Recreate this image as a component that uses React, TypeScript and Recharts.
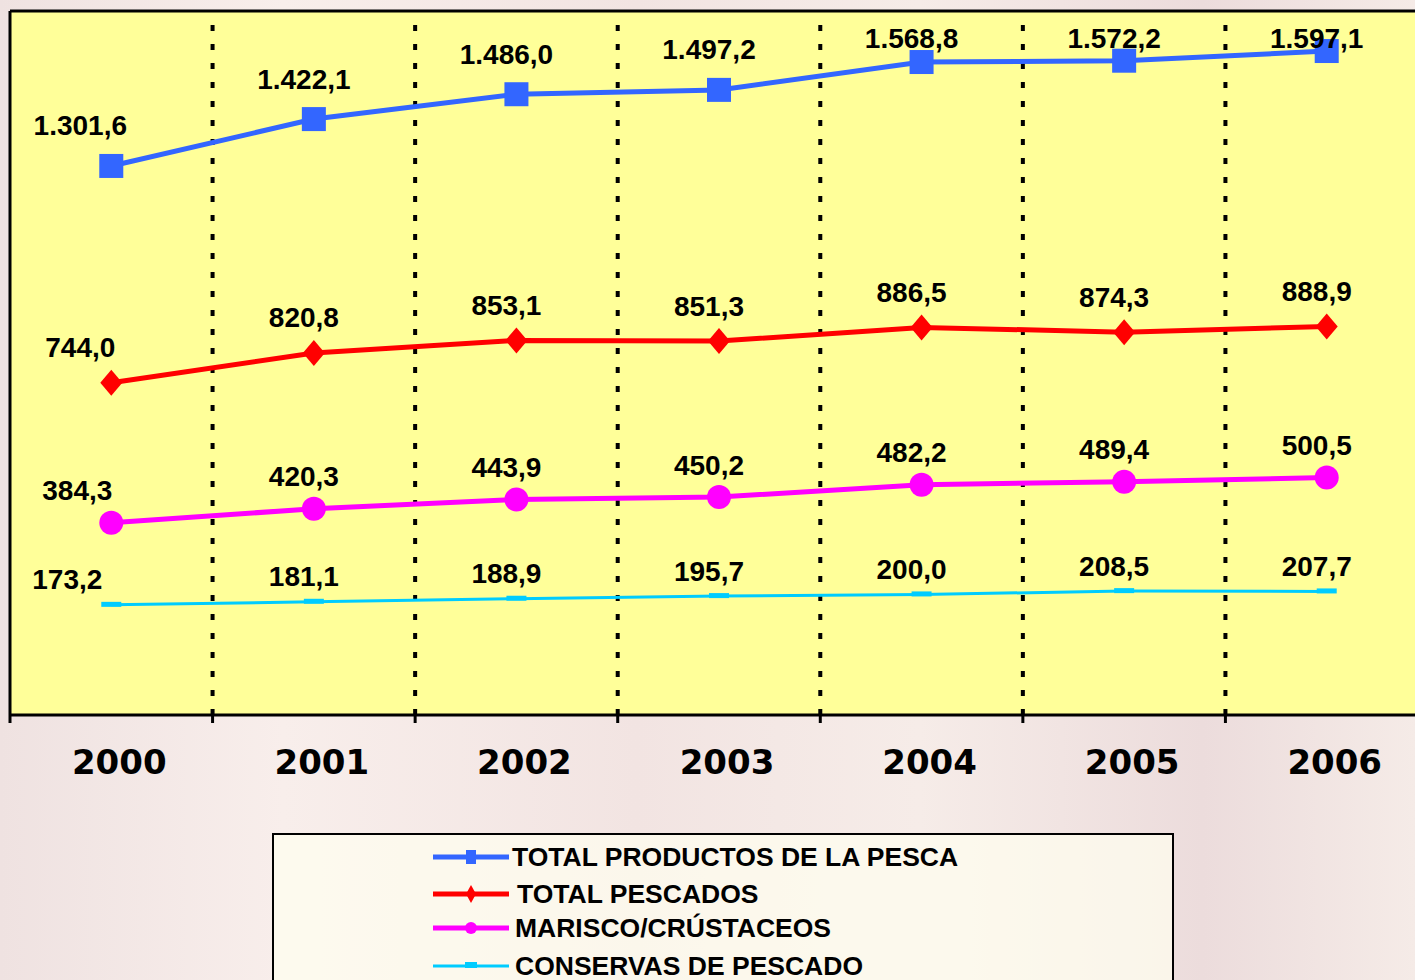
import * as React from "react";
import { CartesianGrid, LabelList, Line, LineChart, ReferenceLine, XAxis, YAxis } from "recharts";

const YEARS = ["2000", "2001", "2002", "2003", "2004", "2005", "2006"];
const TOTAL_PRODUCTOS = [1301.6, 1422.1, 1486.0, 1497.2, 1568.8, 1572.2, 1597.1];
const TOTAL_PESCADOS = [744.0, 820.8, 853.1, 851.3, 886.5, 874.3, 888.9];
const MARISCO = [384.3, 420.3, 443.9, 450.2, 482.2, 489.4, 500.5];
const CONSERVAS = [173.2, 181.1, 188.9, 195.7, 200.0, 208.5, 207.7];
const SERIES_NAMES = ["TOTAL PRODUCTOS DE LA PESCA", "TOTAL PESCADOS", "MARISCO/CRÚSTACEOS", "CONSERVAS DE PESCADO"];

const BLUE = "#3366FF";
const RED = "#FF0000";
const MAGENTA = "#FF00FF";
const CYAN = "#00CCFF";

const data = YEARS.map((year, i) => ({
    pos: i + 0.5,
    year,
    productos: TOTAL_PRODUCTOS[i],
    pescados: TOTAL_PESCADOS[i],
    marisco: MARISCO[i],
    conservas: CONSERVAS[i],
}));

const TICKS = Array.from({ length: 15 }, (_, i) => i / 2);
const BOUNDARIES = [1, 2, 3, 4, 5, 6];

// 1301.6 -> "1.301,6"
const fmt = (v: number) => {
    const [int, dec] = v.toFixed(1).split(".");
    return int.replace(/\B(?=(\d{3})+(?!\d))/g, ".") + "," + dec;
};

const LABEL_FONT = "'Liberation Sans', Arial, sans-serif";

const makeLabel = (dy: number, firstDx: number, minY = 0) => (props: any) => {
    const { x, y, value, index } = props;
    const dx = index === 0 ? firstDx : -10;
    const ty = Math.max(y + dy, minY);
    return (
        <text x={x + dx} y={ty} textAnchor="middle" dominantBaseline="central"
            fontFamily={LABEL_FONT} fontWeight="bold" fontSize={28} fill="#000">
            {fmt(value)}
        </text>
    );
};

const squareDot = (p: any) => (
    <rect key={`sq-${p.index}`} x={p.cx - 12} y={p.cy - 12} width={24} height={24} fill={BLUE} />
);
const diamondDot = (p: any) => (
    <polygon key={`dm-${p.index}`}
        points={`${p.cx},${p.cy - 13} ${p.cx + 11},${p.cy} ${p.cx},${p.cy + 13} ${p.cx - 11},${p.cy}`}
        fill={RED} />
);
const circleDot = (p: any) => (
    <circle key={`ci-${p.index}`} cx={p.cx} cy={p.cy} r={12} fill={MAGENTA} />
);
const dashDot = (p: any) => (
    <rect key={`da-${p.index}`} x={p.cx - 10} y={p.cy - 3} width={20} height={5} fill={CYAN} />
);

const YearTick = (props: any) => {
    const { x, y, payload } = props;
    const v = payload.value;
    if (Number.isInteger(v)) {
        return <line x1={x} x2={x} y1={y} y2={y + 8} stroke="#000" strokeWidth={3} />;
    }
    return (
        <text x={x + 8} y={y + 47} textAnchor="middle" dominantBaseline="central"
            fontFamily="'DejaVu Sans', Verdana, sans-serif" fontWeight="bold" fontSize={34} fill="#000">
            {YEARS[Math.floor(v)]}
        </text>
    );
};

const LEGEND_ROWS = [
    { name: SERIES_NAMES[0], color: BLUE, width: 5, marker: "square", top: 857, textX: 512 },
    { name: SERIES_NAMES[1], color: RED, width: 5, marker: "diamond", top: 894, textX: 517 },
    { name: SERIES_NAMES[2], color: MAGENTA, width: 5, marker: "circle", top: 928, textX: 515 },
    { name: SERIES_NAMES[3], color: CYAN, width: 3, marker: "dash", top: 966, textX: 515 },
];

const LegendMarker = ({ color, width, marker }: any) => (
    <svg width={78} height={24} style={{ position: "absolute", left: 0, top: -12 }}>
        <line x1={0} x2={76} y1={12} y2={12} stroke={color} strokeWidth={width} />
        {marker === "square" && <rect x={33} y={5} width={10} height={14} fill={color} />}
        {marker === "diamond" && <polygon points="38,3 43,12 38,21 33,12" fill={color} />}
        {marker === "circle" && <circle cx={38} cy={12} r={6} fill={color} />}
        {marker === "dash" && <rect x={32} y={8} width={12} height={6} fill={color} />}
    </svg>
);

export default function App() {
    return (
        <div style={{
            position: "absolute", left: 0, top: 0, width: 1415, height: 980, overflow: "hidden",
            background: "linear-gradient(90deg, #efe2e1 0%, #f8eeeb 20%, #f2e4e2 45%, #f6ece8 65%, #ecdcdc 85%, #f5ebe7 100%)",
        }}>
            <LineChart width={1440} height={980} data={data}
                margin={{ top: 11, left: 10, right: 12, bottom: 205 }}>
                <CartesianGrid horizontal={false} vertical={false} fill="#FFFF99" fillOpacity={1} />
                <XAxis dataKey="pos" type="number" domain={[0, 7]} ticks={TICKS} interval={0}
                    allowDataOverflow tickLine={false} tickSize={0} tickMargin={0} height={60}
                    axisLine={{ stroke: "#000", strokeWidth: 3 }} tick={<YearTick />} />
                <YAxis hide type="number" domain={[-110, 1700]} allowDataOverflow />
                {BOUNDARIES.map((b) => (
                    <ReferenceLine key={b} x={b} stroke="#000" strokeWidth={4} strokeDasharray="6 13" />
                ))}
                <ReferenceLine x={0} stroke="#000" strokeWidth={3} />
                <ReferenceLine y={1700} stroke="#000" strokeWidth={3} />
                <Line dataKey="conservas" stroke={CYAN} strokeWidth={3} dot={dashDot} activeDot={false} isAnimationActive={false}>
                    <LabelList dataKey="conservas" content={makeLabel(-25, -44)} />
                </Line>
                <Line dataKey="marisco" stroke={MAGENTA} strokeWidth={5} dot={circleDot} activeDot={false} isAnimationActive={false}>
                    <LabelList dataKey="marisco" content={makeLabel(-32, -34)} />
                </Line>
                <Line dataKey="pescados" stroke={RED} strokeWidth={5} dot={diamondDot} activeDot={false} isAnimationActive={false}>
                    <LabelList dataKey="pescados" content={makeLabel(-35, -31)} />
                </Line>
                <Line dataKey="productos" stroke={BLUE} strokeWidth={5} dot={squareDot} activeDot={false} isAnimationActive={false}>
                    <LabelList dataKey="productos" content={makeLabel(-40, -31, 38)} />
                </Line>
            </LineChart>
            <div style={{
                position: "absolute", left: 272, top: 833, width: 898, height: 200,
                border: "2px solid #000", background: "rgba(255,255,240,0.7)",
            }} />
            {LEGEND_ROWS.map((r) => (
                <div key={r.name} style={{ position: "absolute", left: 433, top: r.top, height: 0 }}>
                    <LegendMarker color={r.color} width={r.width} marker={r.marker} />
                    <span style={{
                        position: "absolute", left: r.textX - 433, top: -15, whiteSpace: "nowrap",
                        fontFamily: LABEL_FONT, fontWeight: "bold", fontSize: 26.5, lineHeight: "30px", color: "#000",
                    }}>{r.name}</span>
                </div>
            ))}
        </div>
    );
}
